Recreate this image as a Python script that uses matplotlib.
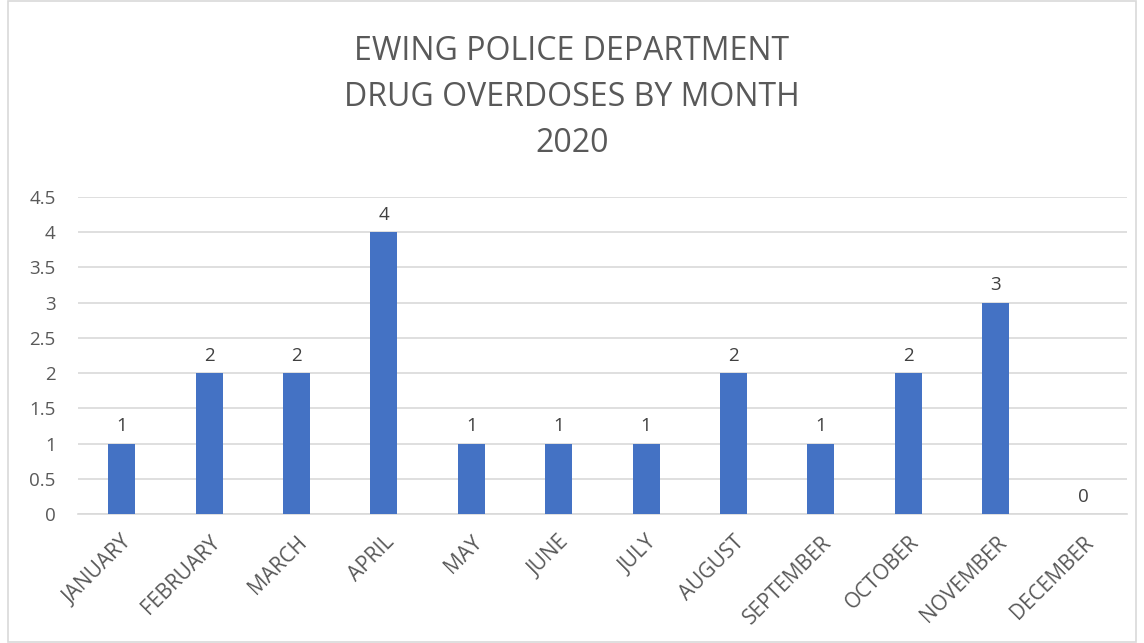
import matplotlib.pyplot as plt
from matplotlib.patches import Rectangle
import numpy as np

months = ["JANUARY", "FEBRUARY", "MARCH", "APRIL", "MAY", "JUNE",
          "JULY", "AUGUST", "SEPTEMBER", "OCTOBER", "NOVEMBER", "DECEMBER"]
overdoses = [1, 2, 2, 4, 1, 1, 1, 2, 1, 2, 3, 0]
title_lines = ["EWING POLICE DEPARTMENT", "DRUG OVERDOSES BY MONTH", "2020"]

plt.rcParams["font.family"] = ["Open Sans", "DejaVu Sans"]
text_color = "#595959"

fig = plt.figure(figsize=(11.44, 6.43), dpi=100)
ax = fig.add_axes([0.0682, 0.2006, 0.9168, 0.493])

x = np.arange(len(months))
bars = ax.bar(x, overdoses, width=0.31, color="#4472C4", zorder=3)
for xi, v in zip(x, overdoses):
    ax.text(xi, v + 0.12, str(v), ha="center", va="bottom",
            fontsize=13.5, color="#404040")

ax.set_xlim(-0.5, len(months) - 0.5)
ax.set_ylim(0, 4.5)
ax.set_yticks(np.arange(0, 4.51, 0.5))
ax.set_yticklabels(["0", "0.5", "1", "1.5", "2", "2.5", "3", "3.5", "4", "4.5"])
ax.set_xticks(x)
ax.set_xticklabels(months, rotation=45, ha="right", rotation_mode="anchor")
ax.tick_params(axis="y", length=0, labelsize=13.5, labelcolor=text_color, pad=16)
ax.tick_params(axis="x", length=0, labelsize=15, labelcolor=text_color, pad=13)
ax.yaxis.grid(True, color="#d9d9d9", linewidth=1.2, zorder=0)
for s in ["top", "right", "left"]:
    ax.spines[s].set_visible(False)
ax.spines["bottom"].set_color("#d9d9d9")
ax.spines["bottom"].set_linewidth(1.2)

for i, line in enumerate(title_lines):
    fig.text(0.5, 1 - (52 + 46 * i) / 643, line, ha="center", va="center",
             fontsize=23, color=text_color)

fig.patches.append(Rectangle((8 / 1144, 0.002), 1 - 16 / 1144, 0.996,
                             transform=fig.transFigure, fill=False,
                             edgecolor="#d9d9d9", linewidth=1.2))

fig.savefig("out.png", dpi=100)
